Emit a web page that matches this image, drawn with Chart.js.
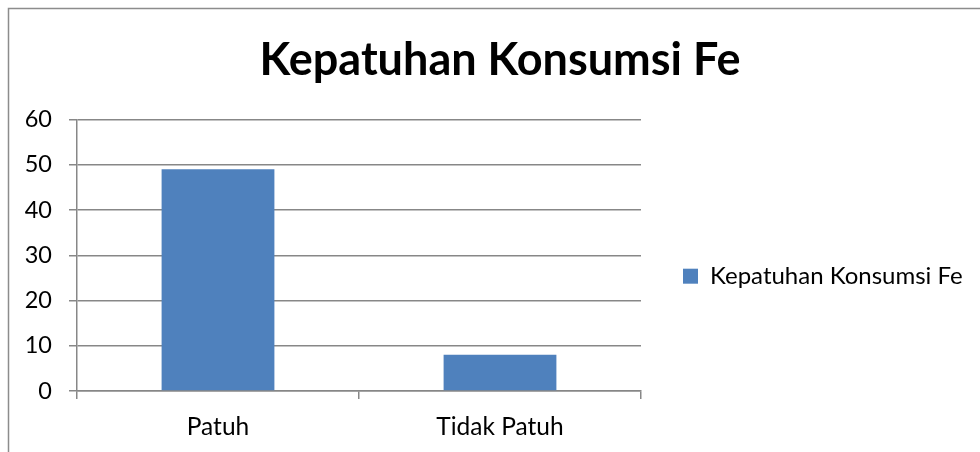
<!DOCTYPE html>
<html>
<head>
<meta charset="utf-8">
<script src="https://cdn.jsdelivr.net/npm/chart.js@4"></script>
<style>
html,body{margin:0;padding:0;background:#fff;}
#wrap{position:relative;width:980px;height:452px;}
canvas{display:block;}
</style>
</head>
<body>
<div id="wrap"><canvas id="c" width="980" height="452"></canvas></div>
<script>
const categories = ["Patuh", "Tidak Patuh"];
const seriesName = "Kepatuhan Konsumsi Fe";
const seriesValues = [49, 8];
const titleText = "Kepatuhan Konsumsi Fe";
const yMin = 0, yMax = 60, yStep = 10;

const FONT = "Lato, 'Noto Sans', sans-serif";
const GRID = "#878787";
const LEGEND_WIDTH = 339;

const frame = {
  id: 'frame',
  beforeDraw(chart) {
    const ctx = chart.ctx;
    ctx.save();
    ctx.fillStyle = '#fff';
    ctx.fillRect(0, 0, chart.width, chart.height);
    ctx.strokeStyle = '#8c8c8c';
    ctx.lineWidth = 1.5;
    ctx.beginPath();
    ctx.moveTo(8.5, chart.height);
    ctx.lineTo(8.5, 8.5);
    ctx.lineTo(chart.width, 8.5);
    ctx.stroke();
    ctx.restore();
  }
};

// let the right-hand legend take a fixed width (layout otherwise caps it)
const legendWidth = {
  id: 'legendWidth',
  beforeLayout(chart) {
    const lg = chart.legend;
    if (lg && !lg._patched) {
      const orig = lg.update;
      lg.update = function (mw, mh, m) {
        const r = orig.call(this, LEGEND_WIDTH, mh, m);
        this.width = LEGEND_WIDTH;
        return r;
      };
      lg._patched = true;
    }
  }
};

new Chart(document.getElementById('c'), {
  type: 'bar',
  data: {
    labels: categories,
    datasets: [{
      label: seriesName,
      data: seriesValues,
      backgroundColor: '#4F81BD',
      borderWidth: 0,
      categoryPercentage: 0.4,
      barPercentage: 1.0
    }]
  },
  options: {
    responsive: false,
    animation: false,
    devicePixelRatio: 1,
    layout: { padding: { left: 20, right: 0, top: 0, bottom: 0 } },
    plugins: {
      title: {
        display: true,
        text: titleText,
        color: '#000',
        font: { family: FONT, size: 45, weight: 'bold', lineHeight: 1.2 },
        padding: { top: 33, bottom: 32.5 }
      },
      legend: {
        display: true,
        position: 'right',
        title: { display: true, text: '', font: { size: 12, lineHeight: 1.2 }, padding: { top: 86, bottom: 0 } },
        labels: {
          color: '#000',
          font: { family: FONT, size: 24 },
          boxWidth: 15,
          boxHeight: 15,
          padding: 42
        }
      },
      tooltip: { enabled: false }
    },
    scales: {
      x: {
        grid: { drawOnChartArea: false, drawTicks: true, tickLength: 8, color: GRID, offset: true, lineWidth: 1.5 },
        border: { color: GRID, width: 1.5 },
        ticks: { color: '#000', font: { family: FONT, size: 24.5 }, padding: 13 },
        afterFit(s) { s.height = 61; }
      },
      y: {
        min: yMin, max: yMax,
        grid: { drawTicks: true, tickLength: 8, color: GRID, lineWidth: 1.5 },
        border: { color: GRID, width: 1.5 },
        ticks: { stepSize: yStep, color: '#000', font: { family: FONT, size: 23.5 }, padding: 17 },
        afterFit(s) { s.width = 57; }
      }
    }
  },
  plugins: [frame, legendWidth]
});
</script>
</body>
</html>
